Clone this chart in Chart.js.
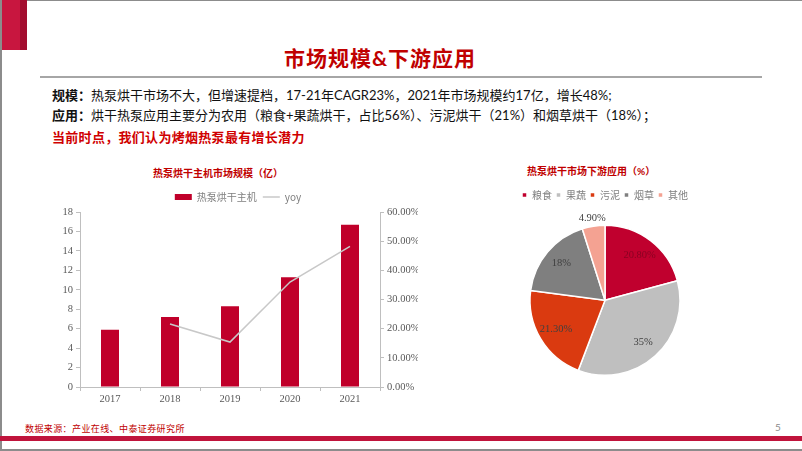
<!DOCTYPE html>
<html lang="zh">
<head>
<meta charset="utf-8">
<script src="https://cdn.jsdelivr.net/npm/chart.js@4.4.0/dist/chart.umd.min.js"></script>
<style>
  body { margin: 0; width: 802px; height: 451px; position: relative; overflow: hidden; background: #fff;
         font-family: "Lato", "Noto Sans CJK SC", sans-serif; }
  .abs { position: absolute; }
  .edge { position: absolute; background: #8c8c8c; }
  .redblock { left: 2px; top: 0; width: 25px; height: 50px; background: linear-gradient(to right, #c8163f 72%, #a30d2f 72%); }
  .title { left: 0; top: 44px; width: 760px; text-align: center; font-size: 21px; font-weight: bold; color: #c00000; line-height: 28px; letter-spacing: 1px; }
  .rule { left: 40px; top: 76px; width: 722px; height: 2px; background: #a6a6a6; }
  .line { left: 52px; font-size: 13px; line-height: 20px; color: #111; white-space: nowrap; letter-spacing: 0; }
  .line b { font-weight: bold; }
  .line.hot { color: #d00000; font-weight: bold; letter-spacing: 0.3px; }
  .ctitle { font-size: 10px; font-weight: bold; color: #c00000; line-height: 14px; white-space: nowrap; }
  .foot { left: 25px; top: 422px; font-size: 9px; color: #c00000; line-height: 13px; letter-spacing: 0.4px; }
  .page { left: 775px; top: 421px; font-size: 10px; color: #8c8c8c; line-height: 13px; }
  .redbar { left: 0; top: 436px; width: 802px; height: 5px; background: #c0143c; }
</style>
</head>
<body>
<div class="edge" style="left:0;top:0;width:802px;height:1px"></div>
<div class="edge" style="left:0;top:0;width:2px;height:451px"></div>
<div class="edge" style="left:0;top:449px;width:802px;height:2px"></div>
<div class="abs redblock"></div>
<div class="abs title">市场规模&amp;下游应用</div>
<div class="abs rule"></div>
<div class="abs line" style="top:85px"><b>规模：</b>热泵烘干市场不大，但增速提档，17-21年CAGR23%，2021年市场规模约17亿，增长48%;</div>
<div class="abs line" style="top:105px"><b>应用：</b>烘干热泵应用主要分为农用（粮食+果蔬烘干，占比56%）、污泥烘干（21%）和烟草烘干（18%）；</div>
<div class="abs line hot" style="top:127px">当前时点，我们认为烤烟热泵最有增长潜力</div>

<div class="abs ctitle" style="left:153px;top:166px">热泵烘干主机市场规模（亿）</div>
<div class="abs ctitle" style="left:527px;top:164px">热泵烘干市场下游应用（%）</div>

<canvas id="bar" class="abs" style="left:40px;top:160px" width="380" height="250"></canvas>
<canvas id="pie" class="abs" style="left:480px;top:160px" width="250" height="250"></canvas>

<div class="abs foot">数据来源：产业在线、中泰证券研究所</div>
<div class="abs page">5</div>
<div class="abs redbar"></div>

<script>
// market size (亿) and yoy growth (%)
const years = ['2017', '2018', '2019', '2020', '2021'];
const marketSize = [5.9, 7.2, 8.3, 11.3, 16.7];
const yoyGrowth = [null, 21.6, 15.4, 36.0, 48.2];

// downstream application split (%)
const uses = ['粮食', '果蔬', '污泥', '烟草', '其他'];
const useShare = [20.8, 35, 21.3, 18, 4.9];
const useLabels = ['20.80%', '35%', '21.30%', '18%', '4.90%'];

const cjk = '"Noto Sans CJK SC", sans-serif';
const serif = '"Liberation Serif", "DejaVu Serif", serif';
const axisGray = '#bfbfbf';
const tickGray = '#595959';

new Chart(document.getElementById('bar'), {
  type: 'bar',
  data: {
    labels: years,
    datasets: [
      {
        label: '热泵烘干主机',
        data: marketSize,
        backgroundColor: '#c0002a',
        borderWidth: 0,
        pointStyle: 'rect',
        categoryPercentage: 1,
        barPercentage: 0.3,
        yAxisID: 'y',
        order: 2
      },
      {
        type: 'line',
        label: 'yoy',
        data: yoyGrowth,
        borderColor: '#c8c8c8',
        backgroundColor: '#c8c8c8',
        borderWidth: 1.5,
        pointRadius: 0,
        pointStyle: 'line',
        tension: 0,
        yAxisID: 'y1',
        order: 1
      }
    ]
  },
  options: {
    responsive: false,
    animation: false,
    layout: { padding: { left: 18, top: 26, right: 2, bottom: 0 } },
    plugins: {
      tooltip: { enabled: false },
      legend: {
        position: 'top',
        labels: {
          font: { family: cjk, size: 10 },
          color: '#7f7f7f',
          usePointStyle: true,
          pointStyleWidth: 17,
          boxHeight: 6,
          padding: 6,
          sort: (a, b) => a.datasetIndex - b.datasetIndex
        }
      }
    },
    scales: {
      x: {
        grid: { display: true, drawOnChartArea: false, color: axisGray, tickLength: 4 },
        border: { color: axisGray },
        ticks: { font: { family: serif, size: 10.5 }, color: tickGray, padding: 2 },
        afterFit: (s) => { s.height = 23; }
      },
      y: {
        position: 'left',
        min: 0,
        max: 18,
        grid: { display: true, drawOnChartArea: false, color: axisGray, tickLength: 4 },
        border: { color: axisGray },
        ticks: { stepSize: 2, font: { family: serif, size: 10.5 }, color: tickGray, padding: 3 },
        afterFit: (s) => { s.width = 22; }
      },
      y1: {
        position: 'right',
        min: 0,
        max: 60,
        grid: { display: true, drawOnChartArea: false, color: axisGray, tickLength: 4 },
        border: { color: axisGray },
        ticks: {
          stepSize: 10,
          font: { family: serif, size: 10.5 },
          color: tickGray,
          padding: 3,
          callback: (v) => v.toFixed(2) + '%'
        },
        afterFit: (s) => { s.width = 38; }
      }
    }
  }
});

// draws the percentage text on (or just outside) each slice
const sliceLabels = {
  id: 'sliceLabels',
  afterDatasetsDraw(chart) {
    const ctx = chart.ctx;
    const meta = chart.getDatasetMeta(0);
    const total = useShare.reduce((a, b) => a + b, 0);
    ctx.save();
    ctx.font = '10.5px ' + serif;
    ctx.textAlign = 'center';
    ctx.textBaseline = 'middle';
    meta.data.forEach((arc, i) => {
      const p = arc.getProps(['x', 'y', 'startAngle', 'endAngle', 'outerRadius'], true);
      const mid = (p.startAngle + p.endAngle) / 2;
      const small = useShare[i] / total < 0.1;
      const r = small ? p.outerRadius + 8 : p.outerRadius * 0.76;
      ctx.fillStyle = i === 0 ? '#8a0022' : '#404040';
      ctx.fillText(useLabels[i], p.x + Math.cos(mid) * r, p.y + Math.sin(mid) * r);
    });
    ctx.restore();
  }
};

new Chart(document.getElementById('pie'), {
  type: 'pie',
  data: {
    labels: uses,
    datasets: [{
      data: useShare,
      backgroundColor: ['#c0002e', '#bfbfbf', '#da3a10', '#7f7f7f', '#f4a292'],
      borderColor: '#ffffff',
      borderWidth: 1.5,
      radius: 75
    }]
  },
  options: {
    responsive: false,
    animation: false,
    layout: { padding: { top: 26, bottom: 19.4, left: 0, right: 0 } },
    plugins: {
      tooltip: { enabled: false },
      legend: {
        position: 'top',
        labels: {
          font: { family: cjk, size: 10 },
          color: '#7f7f7f',
          usePointStyle: true,
          pointStyle: 'rect',
          boxWidth: 5,
          boxHeight: 5,
          padding: 4
        }
      }
    }
  },
  plugins: [sliceLabels]
});
</script>
</body>
</html>
